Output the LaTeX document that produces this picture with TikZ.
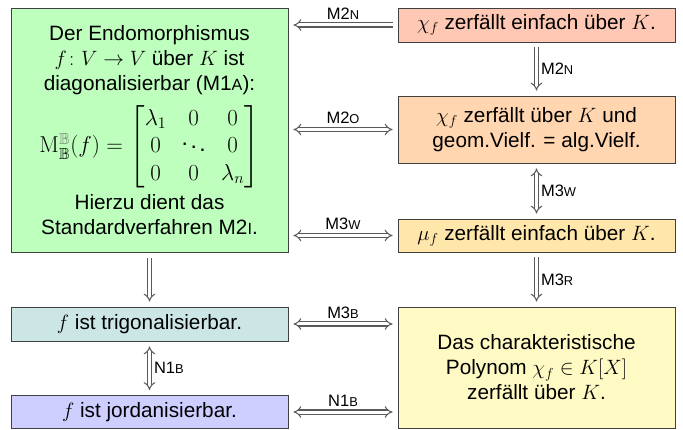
\RequirePackage{fix-cm}
\documentclass[tikz,border=0pt]{standalone}
\usepackage{amsmath,amssymb}
\usepackage[no-math]{fontspec}
\setmainfont{Liberation Sans}
\usetikzlibrary{arrows.meta}
\definecolor{cgreen}{RGB}{190,255,190}
\definecolor{cred}{RGB}{255,200,180}
\definecolor{corange}{RGB}{255,214,176}
\definecolor{cyellowS}{RGB}{255,230,170}
\definecolor{cteal}{RGB}{204,230,230}
\definecolor{cpurple}{RGB}{206,206,255}
\definecolor{cbigy}{RGB}{255,250,196}
\newcommand{\fsc}[1]{\scalebox{0.78}{#1}}
\begin{document}
\begin{tikzpicture}[x=1pt,y=-1pt,
  box/.style={draw=black!75, line width=0.8pt, minimum width=277pt, inner sep=0pt, align=center,
    font=\fontsize{20.74}{25}\selectfont},
  dbl/.style={draw=black!65, line width=1.05pt, double=white, double distance=3pt,
    -{Implies[length=6pt,width=13pt]}},
  dbl2/.style={draw=black!65, line width=1.05pt, double=white, double distance=3pt,
    {Implies[length=6pt,width=13pt]}-{Implies[length=6pt,width=13pt]}},
  lab/.style={font=\fontsize{16.5}{19}\selectfont, inner sep=2pt}]
\useasboundingbox (0,0) rectangle (683,430);
\node[box, fill=cgreen, minimum height=244pt] (G) at (149.5,130) {Der Endomorphismus\\ $f\colon V\to V$ über $K$ ist\\ diagonalisierbar (M1\fsc{A}):\\[10pt]
{\fontsize{23}{27.5}\selectfont\setlength{\arraycolsep}{7pt}$\mathrm{M}^{\textcolor{black!50}{\mathbb{B}}}_{\mathbb{B}}(f)=\begin{bmatrix}\lambda_1 & 0 & 0\\ 0 & \ddots & 0\\ 0 & 0 & \lambda_n\end{bmatrix}$}\\[5pt]
Hierzu dient das\\ Standardverfahren M2\fsc{I}.};
\node[box, fill=cred, minimum height=34pt] (R) at (536.5,25) {$\chi_f$ zerfällt einfach über $K$.};
\node[box, fill=corange, minimum height=67pt] (O) at (536.5,129.5) {$\chi_f$ zerfällt über $K$ und\\ geom.Vielf. = alg.Vielf.};
\node[box, fill=cyellowS, minimum height=33pt] (Y) at (536.5,235.5) {$\mu_f$ zerfällt einfach über $K$.};
\node[box, fill=cteal, minimum height=34pt] (T) at (149.5,324) {$f$ ist trigonalisierbar.};
\node[box, fill=cpurple, minimum height=33pt] (P) at (149.5,412) {$f$ ist jordanisierbar.};
\node[box, fill=cbigy, minimum height=121pt] (B) at (536.5,367.5) {Das charakteristische\\ Polynom $\chi_f\in K[X]$\\ zerfällt über $K$.};
% end points of horizontal arrows (5pt off the boxes)
\coordinate (gR) at ([xshift=5pt]G.east |- R.west);
\coordinate (rG) at ([xshift=-5pt]R.west);
\coordinate (gO) at ([xshift=5pt]G.east |- O.west);
\coordinate (oG) at ([xshift=-5pt]O.west);
\coordinate (gY) at ([xshift=5pt]G.east |- Y.west);
\coordinate (yG) at ([xshift=-5pt]Y.west);
\coordinate (tB) at ([xshift=5pt]T.east);
\coordinate (bT) at ([xshift=-5pt]B.west |- T.east);
\coordinate (pB) at ([xshift=5pt]P.east);
\coordinate (bP) at ([xshift=-5pt]B.west |- P.east);
% horizontal arrows
\draw[dbl] (rG) -- node[lab, above=3pt] {M2\fsc{N}} (gR);
\draw[dbl2] (gO) -- node[lab, above=3pt] {M2\fsc{O}} (oG);
\draw[dbl2] (gY) -- node[lab, above=3pt] {M3\fsc{W}} (yG);
\draw[dbl2] (tB) -- node[lab, above=3pt] {M3\fsc{B}} (bT);
\draw[dbl2] (pB) -- node[lab, above=3pt] {N1\fsc{B}} (bP);
% vertical arrows
\draw[dbl] ([yshift=-5pt]R.south) -- node[lab, right=2pt] {M2\fsc{N}} ([yshift=5pt]O.north);
\draw[dbl2] ([yshift=-5pt]O.south) -- node[lab, right=2pt] {M3\fsc{W}} ([yshift=5pt]Y.north);
\draw[dbl] ([yshift=-5pt]Y.south) -- node[lab, right=2pt] {M3\fsc{R}} ([yshift=5pt]B.north);
\draw[dbl] ([yshift=-6pt]G.south) -- ([yshift=5pt]T.north);
\draw[dbl2] ([yshift=-5pt]T.south) -- node[lab, right=2pt] {N1\fsc{B}} ([yshift=5pt]P.north);
\end{tikzpicture}
\end{document}
